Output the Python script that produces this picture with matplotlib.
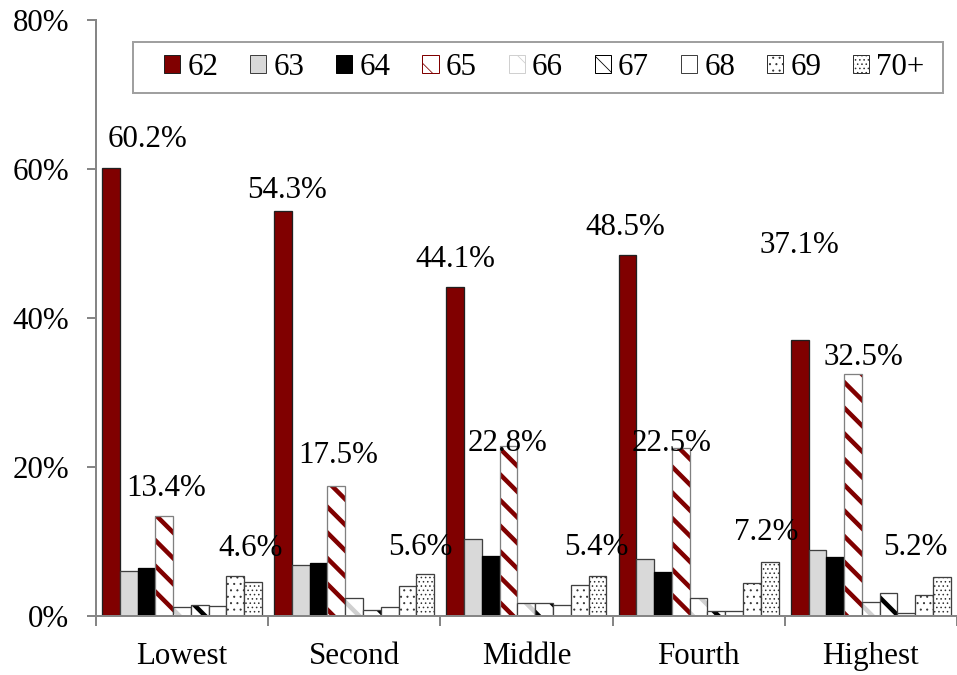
import matplotlib
matplotlib.use("Agg")
import matplotlib.pyplot as plt
from matplotlib.patches import Rectangle
import numpy as np

groups = ["Lowest", "Second", "Middle", "Fourth", "Highest"]
ages = ["62", "63", "64", "65", "66", "67", "68", "69", "70+"]

# share (%) claiming at each age, per group
v62 = [60.2, 54.3, 44.1, 48.5, 37.1]
v63 = [6.1, 6.9, 10.4, 7.6, 8.8]
v64 = [6.4, 7.1, 8.1, 5.9, 7.9]
v65 = [13.4, 17.5, 22.8, 22.5, 32.5]
v66 = [1.25, 2.35, 1.8, 2.45, 1.85]
v67 = [1.5, 0.8, 1.8, 0.7, 3.1]
v68 = [1.3, 1.2, 1.45, 0.7, 0.45]
v69 = [5.4, 4.0, 4.2, 4.45, 2.85]
v70 = [4.6, 5.6, 5.4, 7.2, 5.2]
series = [v62, v63, v64, v65, v66, v67, v68, v69, v70]

# label placement offsets (pixels) from bar top centre, for 62 / 65 / 70+
off62 = [(37, 28), (4, 21), (0, 28), (-2, 27), (0, 94)]
off65 = [(2, 28), (2, 30), (-1, 3), (-9, 5), (10, 16)]
off70 = [(-3, 33), (-5, 27), (-1, 28), (-4, 30), (-27, 30)]

# low dpi so the hatch cell (one inch) matches the fine stripes of the original
DPI = 77


def pt(px):
    return px * 72 / DPI


RED = "#800000"
GRAY = "#868686"
styles = [
    dict(fc=RED, ec="#202020", hatch=None, hc=None, hlw=0),
    dict(fc="#D9D9D9", ec="#404040", hatch=None, hc=None, hlw=0),
    dict(fc="black", ec="black", hatch=None, hc=None, hlw=0),
    dict(fc="white", ec="#808080", hatch="\\", hc=RED, hlw=4.5),
    dict(fc="white", ec="#404040", hatch="\\", hc="#D0D0D0", hlw=4.5),
    dict(fc="white", ec="#404040", hatch="\\", hc="black", hlw=4.5),
    dict(fc="white", ec="#404040", hatch=None, hc=None, hlw=0),
    dict(fc="white", ec="#404040", hatch="..", hc="#303030", hlw=0.8),
    dict(fc="white", ec="#404040", hatch="...", hc="#303030", hlw=0.8),
]

FS = pt(31)
plt.rcParams["font.family"] = ["Liberation Serif", "DejaVu Serif"]

fig = plt.figure(figsize=(957 / DPI, 675 / DPI), dpi=DPI)
ax = fig.add_axes([96 / 957, 1 - 616 / 675, 1 - 96 / 957, (616 - 20) / 675])

gw = 174.25
w = 18 / gw
start = 6 / gw
x = np.arange(len(groups))
handles = []
for j, (vals, st) in enumerate(zip(series, styles)):
    pos = x - 0.5 + start + (j + 0.5) * w
    if st["hatch"]:
        plt.rcParams["hatch.linewidth"] = pt(st["hlw"])
        bars = ax.bar(pos, vals, w, color=st["fc"], hatch=st["hatch"], edgecolor=st["hc"], linewidth=0)
        for b in bars:
            if hasattr(b, "set_hatch_linewidth"):
                b.set_hatch_linewidth(pt(st["hlw"]))
        ax.bar(pos, vals, w, fill=False, edgecolor=st["ec"], linewidth=pt(1.3))
    else:
        ax.bar(pos, vals, w, color=st["fc"], edgecolor=st["ec"], linewidth=pt(1.3))
    h = Rectangle((0, 0), 1, 1, facecolor=st["fc"], hatch=st["hatch"],
                  edgecolor=st["hc"] if st["hatch"] else st["ec"], linewidth=pt(1))
    if st["hatch"] and hasattr(h, "set_hatch_linewidth"):
        h.set_hatch_linewidth(pt(st["hlw"]))
    handles.append(h)

    offs = {0: off62, 3: off65, 8: off70}.get(j)
    if offs:
        for i in range(len(groups)):
            ax.annotate(f"{vals[i]:.1f}%", (pos[i], vals[i]), xytext=offs[i],
                        textcoords="offset pixels", ha="center", va="center",
                        fontsize=FS, annotation_clip=False)

ax.set_xlim(-0.5, (957 - 96) / gw - 0.5)
ax.set_ylim(0, 80)
ax.set_yticks([0, 20, 40, 60, 80])
ax.set_yticklabels(["0%", "20%", "40%", "60%", "80%"])
ax.set_xticks(x)
ax.set_xticklabels(groups)
ax.set_xticks(np.arange(-0.5, 5, 1), minor=True)
ax.tick_params(axis="x", which="major", length=0, labelsize=FS, pad=pt(26))
ax.tick_params(axis="x", which="minor", length=pt(10), color=GRAY, width=pt(2))
ax.tick_params(axis="y", length=pt(9), color=GRAY, width=pt(2), labelsize=FS, pad=pt(18))
for s in ["top", "right"]:
    ax.spines[s].set_visible(False)
for s in ["left", "bottom"]:
    ax.spines[s].set_color(GRAY)
    ax.spines[s].set_linewidth(pt(2))

# legend frame drawn separately so the entries can sit at their own spacing
fig.add_artist(Rectangle((133 / 957, 1 - 93 / 675), 810 / 957, 51 / 675,
                         transform=fig.transFigure, fill=False,
                         edgecolor="#A0A0A0", linewidth=pt(2)))
fig.legend(handles, ages, loc="center left", ncol=9,
           bbox_to_anchor=(164 / 957, 1 - 67.5 / 675),
           borderaxespad=0, borderpad=0, fontsize=FS, handlelength=0.52,
           handleheight=0.55, handletextpad=0.23, columnspacing=1.03, frameon=False)

fig.savefig("out.png", dpi=DPI)
